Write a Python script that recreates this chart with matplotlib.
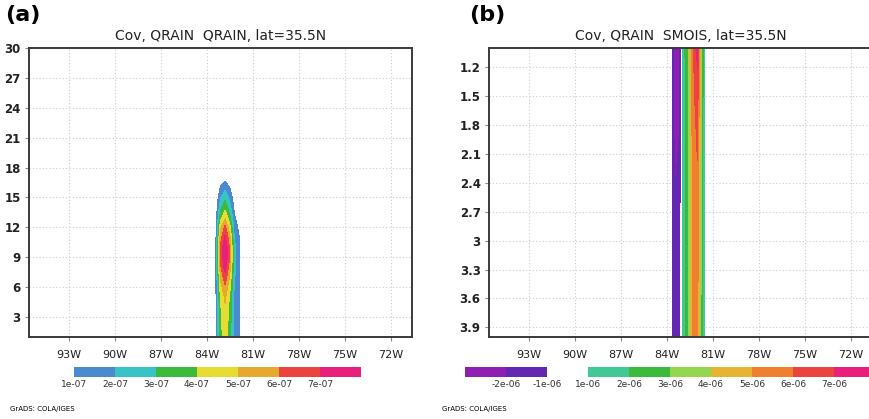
#!/usr/bin/env python
# Cross sections of rain-water covariance along lat=35.5N (GrADS style panels)

import numpy as np
import matplotlib as mpl; mpl.use("Agg")
import matplotlib.pyplot as plt
from matplotlib.colors import ListedColormap, BoundaryNorm

mpl.rcParams["font.family"] = "DejaVu Sans"

# Axes ticks
# ------------------------------------------------------------------------------
lon_ticks = [-93, -90, -87, -84, -81, -78, -75, -72]
lon_labels = ["93W", "90W", "87W", "84W", "81W", "78W", "75W", "72W"]
lev_ticks = [3, 6, 9, 12, 15, 18, 21, 24, 27, 30]
depth_ticks = [1.2, 1.5, 1.8, 2.1, 2.4, 2.7, 3.0, 3.3, 3.6, 3.9]
depth_labels = ["1.2", "1.5", "1.8", "2.1", "2.4", "2.7", "3", "3.3", "3.6", "3.9"]

# (a) Cov(QRAIN, QRAIN), units of 1e-07, model levels 1..18
# ------------------------------------------------------------------------------
qq_lon = [-83.7, -83.4, -83.1, -82.8, -82.5, -82.2, -81.9, -81.6]
qq_lev = [1, 2, 3, 4, 5, 6, 7, 8, 9, 10, 11, 12, 13, 14, 15, 16, 17, 18]
qq_cov = [
    [0, 0.9, 3.6, 4.6, 3.4, 1.6, 1.1, 0],
    [0, 0.9, 3.7, 4.7, 3.5, 1.6, 1.1, 0],
    [0, 0.9, 3.8, 4.8, 3.6, 1.7, 1.2, 0],
    [0, 0.9, 3.9, 4.9, 3.7, 1.7, 1.2, 0],
    [0, 0.9, 4.1, 5.2, 3.9, 1.8, 1.2, 0],
    [0, 1.0, 4.6, 5.8, 4.3, 1.9, 1.3, 0],
    [0, 1.1, 5.2, 6.6, 4.9, 2.1, 1.3, 0],
    [0, 1.1, 5.8, 7.4, 5.5, 2.3, 1.3, 0],
    [0, 1.1, 6.2, 8.0, 6.0, 2.4, 1.3, 0],
    [0, 1.1, 6.2, 7.9, 5.9, 2.3, 1.2, 0],
    [0, 0.9, 5.6, 7.2, 5.3, 2.0, 1.1, 0],
    [0, 0.7, 4.8, 6.3, 4.4, 1.6, 0.8, 0],
    [0, 0.5, 3.6, 4.8, 3.3, 1.2, 0.2, 0],
    [0, 0.3, 2.7, 3.7, 2.4, 0.8, 0, 0],
    [0, 0.1, 1.9, 2.7, 1.7, 0.5, 0, 0],
    [0, 0, 1.1, 1.7, 1.0, 0.2, 0, 0],
    [0, 0, 0.3, 0.6, 0.3, 0, 0, 0],
    [0, 0, 0, 0, 0, 0, 0, 0],
]
qq_levels = [1, 2, 3, 4, 5, 6, 7]
qq_tick_labels = ["1e-07", "2e-07", "3e-07", "4e-07", "5e-07", "6e-07", "7e-07"]
qq_colors = ["#4a8bd0", "#38c3c6", "#3cba3c", "#e6dc32",
             "#e6a92f", "#eb4340", "#e8207c"]

# (b) Cov(QRAIN, SMOIS), units of 1e-06, soil depth 1.0..4.0
# ------------------------------------------------------------------------------
qs_lon = [-83.8, -83.5, -83.2, -82.9, -82.6, -82.3, -82.0, -81.7, -81.4]
qs_depth = [1.0, 1.5, 2.0, 2.5, 3.0, 3.5, 4.0]
qs_cov = [
    [0.5, -2.6, -2.3, 1.6, 2.9, 5.8, 7.3, 2.6, 0],
    [0.5, -2.4, -2.15, 1.6, 2.8, 5.6, 6.6, 2.6, 0],
    [0.5, -2.2, -2.0, 1.6, 2.8, 5.4, 6.1, 2.5, 0],
    [0.5, -2.0, -1.8, 1.6, 2.7, 5.3, 5.8, 2.5, 0],
    [0.5, -1.9, -1.6, 1.6, 2.7, 5.2, 5.6, 2.4, 0],
    [0.5, -1.8, -1.5, 1.6, 2.6, 5.1, 5.4, 2.4, 0],
    [0.5, -1.8, -1.4, 1.6, 2.6, 5.0, 5.2, 2.3, 0],
]
qs_levels = [-2, -1, 1, 2, 3, 4, 5, 6, 7]
qs_tick_labels = ["-2e-06", "-1e-06", "1e-06", "2e-06", "3e-06",
                  "4e-06", "5e-06", "6e-06", "7e-06"]
qs_colors = ["#8e1fb2", "#6427b2", "none", "#40c896", "#3cba3c", "#94d650",
             "#e6b432", "#ee8030", "#eb4340", "#e8207c"]

# Figure
# ------------------------------------------------------------------------------
fig = plt.figure(figsize=(8.69, 4.19), dpi=100)

def style_axes(ax):
    ax.set_xlim(-95.6, -70.6)
    ax.set_xticks(lon_ticks)
    ax.set_xticklabels(lon_labels)
    ax.set_axisbelow(True)
    ax.grid(True, color="#cccccc", lw=0.8, ls=(0, (1, 2)))
    for s in ax.spines.values():
        s.set_color("#3a3a3a")
        s.set_linewidth(1.4)
    ax.tick_params(axis="x", length=3, width=0.8, color="#888888",
                   pad=6, labelsize=8, labelcolor="#222222")
    ax.tick_params(axis="y", length=3, width=0.8, color="#888888",
                   pad=3, labelsize=8.5, labelcolor="#222222")
    for t in ax.get_yticklabels():
        t.set_fontweight("bold")

def colorbar(rect, levels, colors, labels, low_open):
    cax = fig.add_axes(rect)
    bounds = list(range(len(colors) + 1))
    cmap = ListedColormap(["white" if c == "none" else c for c in colors])
    norm = BoundaryNorm(bounds, cmap.N)
    cb = fig.colorbar(mpl.cm.ScalarMappable(norm=norm, cmap=cmap), cax=cax,
                      orientation="horizontal", boundaries=bounds)
    cb.outline.set_visible(False)
    cb.minorticks_off()
    for s in cax.spines.values():
        s.set_visible(False)
    first = 1 if low_open else 0
    cb.set_ticks([first + i for i in range(len(levels))])
    cb.set_ticklabels(labels)
    cax.tick_params(length=0, pad=2, labelsize=6.5, labelcolor="#333333")
    return cb

# panel (a)
ax1 = fig.add_axes([29 / 869, 1 - 337 / 419, 383 / 869, 289 / 419])
X, Y = np.meshgrid(qq_lon, qq_lev)
ax1.contourf(X, Y, np.array(qq_cov), levels=qq_levels + [100], colors=qq_colors)
ax1.set_ylim(1, 30)
ax1.set_yticks(lev_ticks)
style_axes(ax1)
ax1.set_title("Cov, QRAIN  QRAIN, lat=35.5N", fontsize=10, pad=6, color="#222222")
colorbar([74 / 869, 1 - 377 / 419, 287 / 869, 10 / 419],
         qq_levels, qq_colors, qq_tick_labels, low_open=False)

# panel (b)
ax2 = fig.add_axes([489 / 869, 1 - 337 / 419, 383 / 869, 289 / 419])
X, Y = np.meshgrid(qs_lon, qs_depth)
ax2.contourf(X, Y, np.array(qs_cov), levels=[-100] + qs_levels + [100],
             colors=qs_colors)
ax2.set_ylim(4.0, 1.0)
ax2.set_yticks(depth_ticks)
ax2.set_yticklabels(depth_labels)
style_axes(ax2)
ax2.set_title("Cov, QRAIN  SMOIS, lat=35.5N", fontsize=10, pad=6, color="#222222")
colorbar([465 / 869, 1 - 377 / 419, 410 / 869, 10 / 419],
         qs_levels, qs_colors, qs_tick_labels, low_open=True)

# panel letters and GrADS stamp
fig.text(5 / 869, 1 - 5 / 419, "(a)", fontsize=16, fontweight="bold", va="top")
fig.text(469 / 869, 1 - 5 / 419, "(b)", fontsize=16, fontweight="bold", va="top")
fig.text(10 / 869, 1 - 409 / 419, "GrADS: COLA/IGES", fontsize=5, va="center")
fig.text(442 / 869, 1 - 409 / 419, "GrADS: COLA/IGES", fontsize=5, va="center")

fig.savefig("out.png", dpi=100)
